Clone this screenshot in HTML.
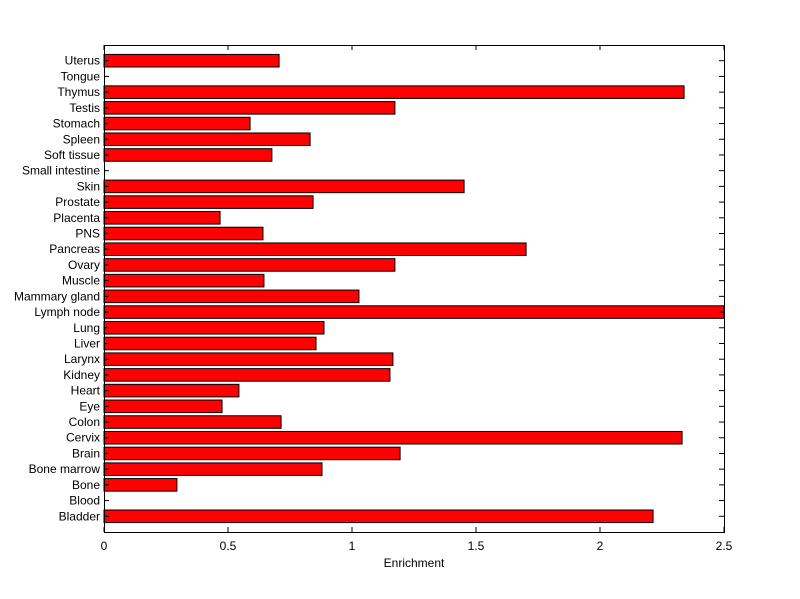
<!DOCTYPE html>
<html><head><meta charset="utf-8"><style>
html,body{margin:0;padding:0;background:#fff;}
svg{display:block;font-family:"Liberation Sans",Arial,sans-serif;}
</style></head><body>
<svg id="chart" width="800" height="599" viewBox="0 0 800 599" xmlns="http://www.w3.org/2000/svg">
<rect x="0" y="0" width="800" height="599" fill="#fff"/>
<g id="bars"></g>
<g id="axes"></g>
<text x="414" y="567" text-anchor="middle" font-size="12">Enrichment</text>
</svg>
<script>
const categories = ["Bladder","Blood","Bone","Bone marrow","Brain","Cervix","Colon","Eye","Heart","Kidney","Larynx","Liver","Lung","Lymph node","Mammary gland","Muscle","Ovary","Pancreas","PNS","Placenta","Prostate","Skin","Small intestine","Soft tissue","Spleen","Stomach","Testis","Thymus","Tongue","Uterus"];
const values = [2.214,0,0.294,0.879,1.194,2.331,0.714,0.476,0.544,1.153,1.165,0.855,0.887,2.6,1.028,0.645,1.173,1.702,0.641,0.468,0.843,1.452,0,0.677,0.831,0.589,1.173,2.339,0,0.706];
const xTicks = [0,0.5,1,1.5,2,2.5];
const xTickLabels = ["0","0.5","1","1.5","2","2.5"];

const L=104,R=724,T=45,B=532;
const xMin=0,xMax=2.5,yMin=0,yMax=categories.length+1;
const sx=v=>L+(Math.min(Math.max(v,xMin),xMax)-xMin)/(xMax-xMin)*(R-L);
const sy=v=>B-(v-yMin)/(yMax-yMin)*(B-T);
const NS="http://www.w3.org/2000/svg";
const bars=document.getElementById('bars'), axes=document.getElementById('axes');
function mk(tag,attrs,parent){const e=document.createElementNS(NS,tag);for(const k in attrs)e.setAttribute(k,attrs[k]);parent.appendChild(e);return e;}
const step=(B-T)/(yMax-yMin), bh=step*0.8;
categories.forEach((c,i)=>{
  const yc=sy(i+1);
  if(values[i]>0){
    const r=mk('rect',{x:sx(0),y:yc-bh/2,width:sx(values[i])-sx(0),height:bh,fill:'#ff0000',stroke:'#000','stroke-width':1},bars);
    
    
  }
  const t=mk('text',{x:L-4,y:yc+4,'text-anchor':'end','font-size':12},axes);
  t.textContent=c;
  
  
  const tl=mk('line',{x1:L,x2:L+5,y1:yc,y2:yc,stroke:'#000'},axes);
  
  
  const tr=mk('line',{x1:R-5,x2:R,y1:yc,y2:yc,stroke:'#000'},axes);
  
  
});
xTicks.forEach((v,i)=>{
  const x=sx(v);
  const a=mk('line',{x1:x,x2:x,y1:B,y2:B-5,stroke:'#000'},axes);
  
  
  const b=mk('line',{x1:x,x2:x,y1:T,y2:T+5,stroke:'#000'},axes);
  
  
  const t=mk('text',{x:x,y:B+18,'text-anchor':'middle','font-size':12},axes);
  t.textContent=xTickLabels[i];
  
  
});
const frame=mk('rect',{x:L+0.5,y:T+0.5,width:R-L,height:B-T,fill:'none',stroke:'#000'},axes);


</script>
</body></html>
